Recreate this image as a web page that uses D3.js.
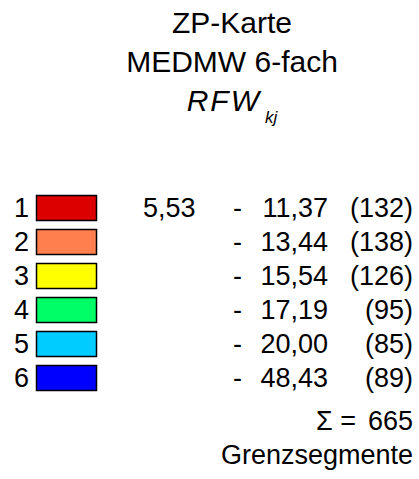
<!DOCTYPE html>
<html><head><meta charset="utf-8">
<script src="https://cdn.jsdelivr.net/npm/d3@7"></script>
<style>
html,body{margin:0;padding:0;background:#fff;}
svg{display:block;font-family:"Liberation Sans",Arial,sans-serif;}
</style></head>
<body>
<svg id="chart" width="419" height="479"></svg>
<script>
const titleLines = ["ZP-Karte", "MEDMW 6-fach"];
const classes = ["1","2","3","4","5","6"];
const lowerBound = "5,53";
const upperBounds = ["11,37","13,44","15,54","17,19","20,00","48,43"];
const counts = [132,138,126,95,85,89];
const colors = ["#dc0000","#ff7f4f","#ffff00","#00ff66","#00ccff","#0000ff"];
const footer = "Grenzsegmente";

const svg = d3.select("#chart");
const step = 34, boxH = 25;
const y = d3.scaleBand().domain(classes)
  .range([195, 195 + step*classes.length - (step-boxH)])
  .paddingInner((step-boxH)/step).paddingOuter(0);

// title
const cx = 232;
svg.selectAll("text.title").data(titleLines).join("text")
  .attr("class","title").attr("x",cx).attr("y",(d,i)=>33+i*39)
  .attr("text-anchor","middle").attr("font-size",30).attr("fill","#000").text(d=>d);
const t3 = svg.append("text").attr("x",cx).attr("y",111).attr("text-anchor","middle")
  .attr("font-size",30).attr("fill","#000");
t3.append("tspan").attr("font-style","italic").attr("letter-spacing",2).text("RFW");
t3.append("tspan").attr("font-style","italic").attr("font-size",17).attr("dy",12).attr("dx",4).text("kj");

const rows = svg.selectAll("g.row").data(classes).join("g").attr("class","row");
rows.append("text").attr("x",29).attr("y",d=>y(d)+22).attr("text-anchor","end")
  .attr("font-size",27).text(d=>d);
rows.append("rect").attr("x",36.5).attr("y",d=>y(d)+0.5).attr("width",60).attr("height",y.bandwidth())
  .attr("fill",(d,i)=>colors[i]).attr("stroke","#000").attr("stroke-width",1.5);
rows.filter((d,i)=>i===0).append("text").attr("x",143).attr("y",d=>y(d)+22)
  .attr("font-size",27).text(lowerBound);
rows.append("text").attr("x",233).attr("y",d=>y(d)+22).attr("font-size",27).text("-");
rows.append("text").attr("x",328).attr("y",d=>y(d)+22).attr("text-anchor","end")
  .attr("font-size",27).text((d,i)=>upperBounds[i]);
rows.append("text").attr("x",413).attr("y",d=>y(d)+22).attr("text-anchor","end")
  .attr("font-size",27).text((d,i)=>"("+counts[i]+")");

const sumY = 430;
const sumText = svg.append("text").attr("x",413).attr("y",sumY).attr("text-anchor","end")
  .attr("font-size",27).style("white-space","pre");
sumText.append("tspan").text("\u03A3 =");
sumText.append("tspan").attr("dx",12).text(d3.sum(counts));
svg.append("text").attr("x",413).attr("y",464).attr("text-anchor","end")
  .attr("font-size",27).text(footer);
</script>
</body></html>
